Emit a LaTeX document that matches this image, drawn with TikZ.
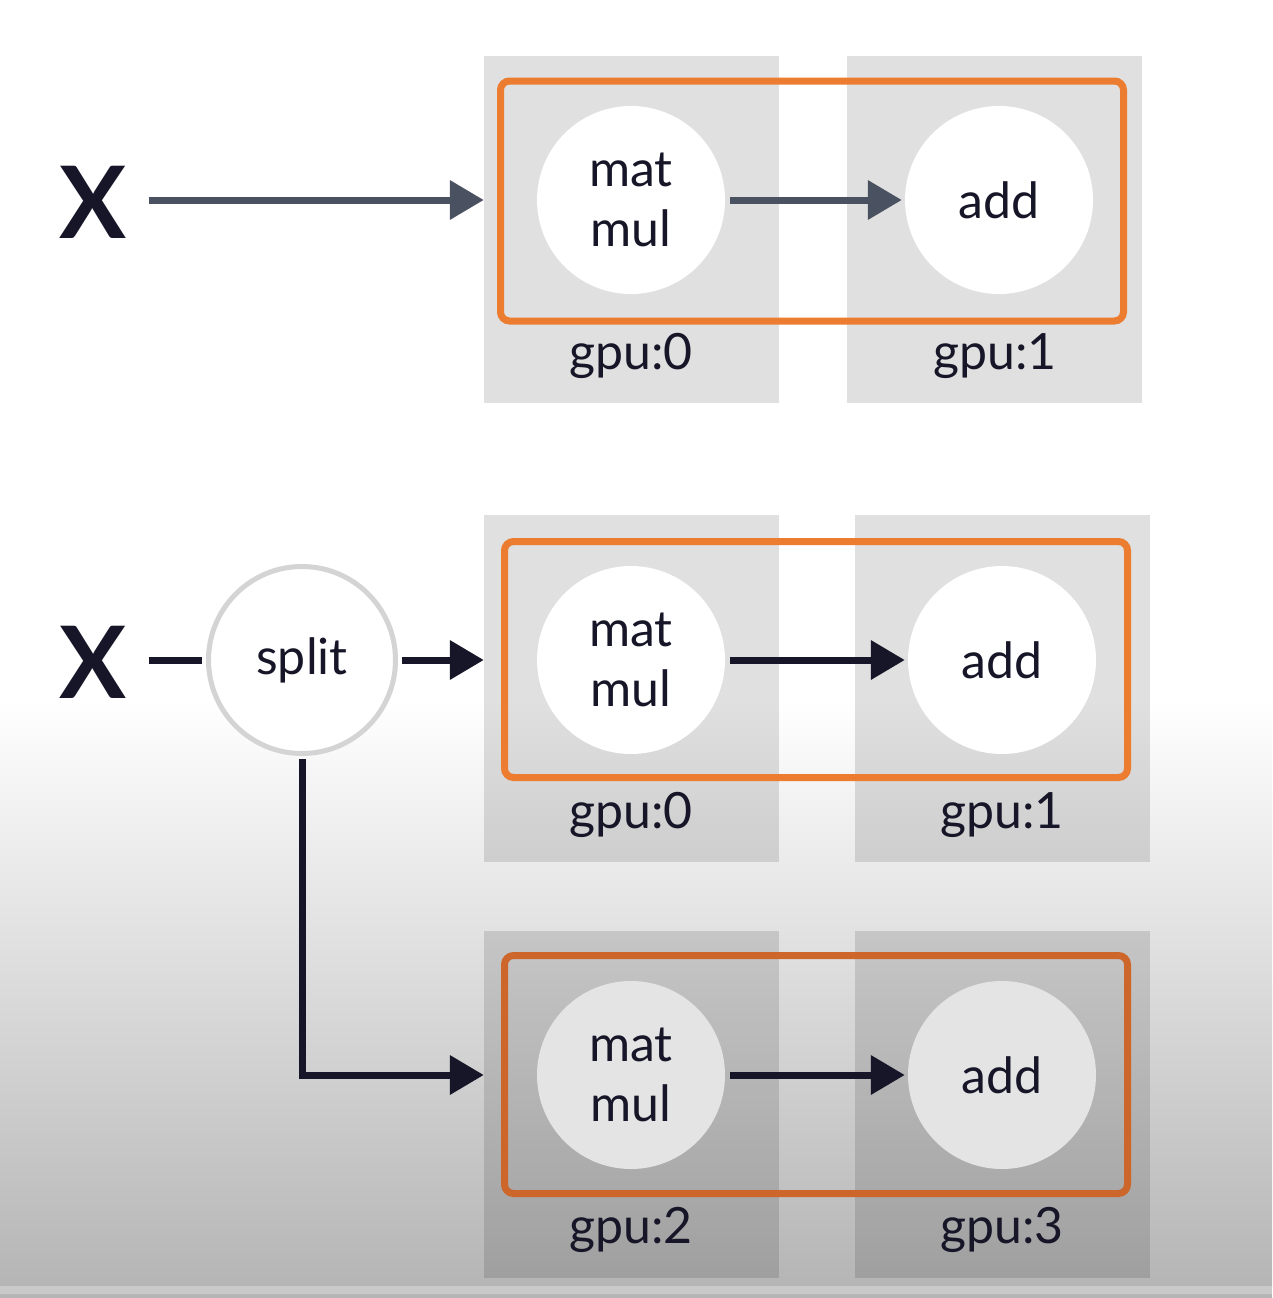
\documentclass[tikz,border=0pt]{standalone}
\usepackage{fontspec}
\setmainfont{Lato}
\usepackage{tikz}
\usetikzlibrary{arrows.meta}
\definecolor{linkorange}{RGB}{236,124,48}
\definecolor{darkorange}{RGB}{204,102,42}
\definecolor{slate}{RGB}{74,82,98}
\definecolor{ink}{RGB}{22,22,40}
\definecolor{splitgray}{RGB}{212,212,212}
\definecolor{dimwhite}{RGB}{228,228,228}

\begin{document}
\begin{tikzpicture}[x=1pt,y=-1pt]
  \tikzstyle{gpu}=[rectangle, fill=black, fill opacity=0.12, minimum width=295pt, minimum height=347pt, inner sep=0pt]
  \tikzstyle{op}=[circle, fill=white, minimum size=188pt, inner sep=0pt, align=center, text=ink, font=\fontsize{50}{60}\selectfont]
  \tikzstyle{pipe}=[rectangle, rounded corners=9pt, draw=linkorange, line width=7pt, minimum width=623pt, minimum height=240pt, inner sep=0pt]
  \tikzstyle{dev}=[text=ink, font=\fontsize{50}{56}\selectfont]
  \tikzstyle{input}=[inner sep=0pt, text=ink, font=\fontsize{100}{110}\selectfont\bfseries]
  \tikzstyle{flow}=[line width=7pt, draw=ink, -{Triangle[length=34pt,width=38pt]}]

  \useasboundingbox (0,0) rectangle (1272,1298);
  \fill[white] (0,0) rectangle (1272,700);
  \shade[top color=white, bottom color=black!29] (0,700) rectangle (1272,1286);
  \fill[black!21] (0,1286) rectangle (1272,1294);
  \fill[black!29] (0,1294) rectangle (1272,1298);

  \node[gpu] (G_1) at (631.5,229.5) {};
  \node[gpu] (G_2) at (994.5,229.5) {};
  \node[gpu] (G_3) at (631.5,688) {};
  \node[gpu] (G_4) at (1002.5,688) {};
  \node[gpu] (G_5) at (631.5,1104) {};
  \node[gpu] (G_6) at (1002.5,1104) {};

  \node[dev] (L_1) at (631,356) {gpu:0};
  \node[dev] (L_2) at (995,356) {gpu:1};
  \node[dev] (L_3) at (631,815) {gpu:0};
  \node[dev] (L_4) at (1002,815) {gpu:1};
  \node[dev] (L_5) at (631,1230) {gpu:2};
  \node[dev] (L_6) at (1002,1230) {gpu:3};

  \node[pipe] (P_1) at (812,201) {};
  \node[pipe, minimum height=236pt] (P_2) at (816,659.5) {};
  \node[pipe, draw=darkorange, minimum height=238pt] (P_3) at (816,1074.5) {};

  \node[op] (M_1) at (631,200) {mat\\mul};
  \node[op] (A_1) at (999,200) {add};
  \node[op] (M_2) at (631,660) {mat\\mul};
  \node[op] (A_2) at (1002,660) {add};
  \node[op, fill=dimwhite] (M_3) at (631,1075) {mat\\mul};
  \node[op, fill=dimwhite] (A_3) at (1002,1075) {add};

  \node[input] (X_1) at (93,202) {X};
  \node[input] (X_2) at (93,662) {X};
  \node[circle, draw=splitgray, line width=5pt, fill=white, minimum size=187pt, inner sep=0pt, text=ink, font=\fontsize{50}{56}\selectfont] (s) at (302,660) {split};

  \draw[flow, draw=slate, shorten <=22pt] (X_1.east |- M_1) -- (G_1.west |- M_1);
  \draw[flow, draw=slate, shorten <=5pt, shorten >=3pt] (M_1) -- (A_1);

  \draw[line width=7pt, ink, shorten <=22pt, shorten >=4pt] (X_2.east |- s) -- (s);
  \draw[flow, shorten <=4pt] (s) -- (G_3.west |- s);
  \draw[flow, shorten <=5pt, shorten >=3pt] (M_2) -- (A_2);
  \draw[flow, shorten <=3pt] (s.south) |- (G_5.west |- M_3);
  \draw[flow, shorten <=5pt, shorten >=3pt] (M_3) -- (A_3);
\end{tikzpicture}
\end{document}
